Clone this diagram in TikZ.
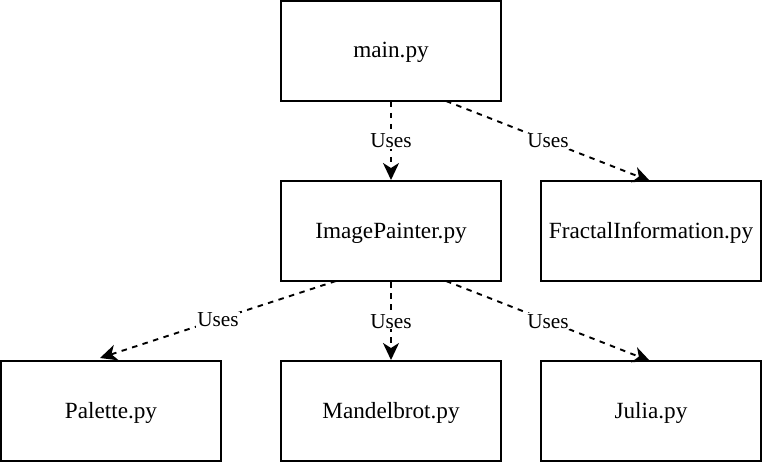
\documentclass[tikz,border=0pt]{standalone}
\usepackage{fontspec}
\setmainfont{Liberation Serif}
\usetikzlibrary{arrows.meta}
\begin{document}
\begin{tikzpicture}[x=1pt,y=-1pt,
  box/.style={draw=black, line width=2pt, minimum width=220pt, minimum height=100pt, inner sep=0pt, text height=14pt, text depth=0pt, font=\fontsize{23.2}{27}\selectfont},
  uses/.style={draw=black, line width=1.9pt, dash pattern=on 5.5pt off 5.5pt, -{Stealth[length=17pt,width=16pt,inset=5pt]}},
  lbl/.style={fill=white, inner sep=1pt, text height=14pt, text depth=0pt, font=\fontsize{21.3}{25}\selectfont}]
\useasboundingbox (0,0) rectangle (762,462);
\node[box] (main) at (391,51) {main.py};
\node[box] (img) at (391,231) {ImagePainter.py};
\node[box] (frac) at (651,231) {FractalInformation.py};
\node[box] (pal) at (111,411) {Palette.py};
\node[box] (man) at (391,411) {Mandelbrot.py};
\node[box] (jul) at (651,411) {Julia.py};
\coordinate (m1) at (446,101);
\coordinate (fe) at (650,181);
\coordinate (i1) at (336,281);
\coordinate (pe) at (100,358);
\coordinate (i3) at (446,281);
\coordinate (je) at (650,361);
\draw[uses] (main.south) -- node[lbl] {Uses} (img.north);
\draw[uses] (m1) -- node[lbl] {Uses} (fe);
\draw[uses] (i1) -- node[lbl, pos=0.5] {Uses} (pe);
\draw[uses] (img.south) -- node[lbl] {Uses} (man.north);
\draw[uses] (i3) -- node[lbl] {Uses} (je);
\end{tikzpicture}
\end{document}
